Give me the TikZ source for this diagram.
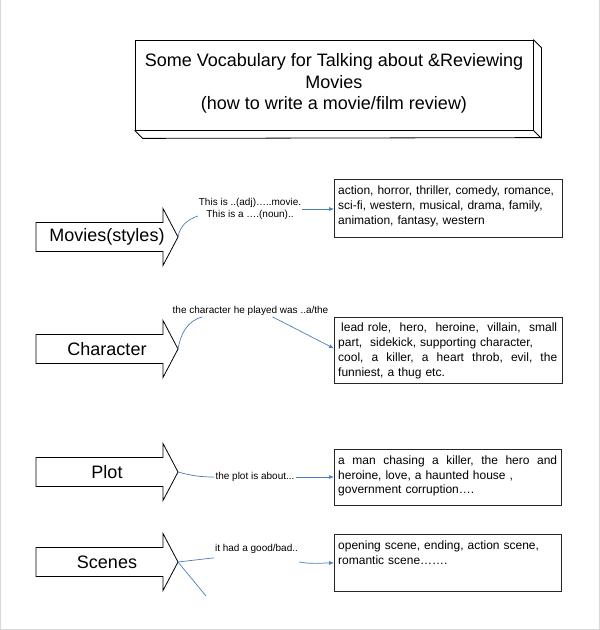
\documentclass[tikz,border=0pt]{standalone}
\usepackage{fontspec}
\setmainfont{Liberation Sans}
\usetikzlibrary{arrows.meta,calc}
\definecolor{conblue}{HTML}{4A7EBB}
\tikzset{
  big/.style={font=\fontsize{18}{21.5}\selectfont},
  small/.style={font=\fontsize{10}{12}\selectfont, inner sep=1pt, align=center},
  boxtext/.style={font=\fontsize{12}{14.8}\selectfont, text width=219pt, align=left,
    inner xsep=4pt, inner ysep=7pt, anchor=north west},
  wordbox/.style={draw=black!85, line width=0.9pt, inner sep=0pt, anchor=north west},
  con/.style={draw=conblue, line width=0.7pt},
  conarrow/.style={con, -{Latex[length=5pt,width=4pt]}},
  blockarrow/.pic={
    \draw[line width=0.8pt, fill=white] (0,0) -- (-15,28.5) -- (-15,14.5) -- (-142,14.5)
      -- (-142,-14.5) -- (-15,-14.5) -- (-15,-28.5) -- cycle;
    \coordinate (-tip) at (0,0);
  }
}
\newcommand{\jline}[1]{\makebox[219pt][l]{#1}}
\newcommand{\sep}{\hfill}
\begin{document}
\begin{tikzpicture}[x=1pt,y=1pt]
\useasboundingbox (0,0) rectangle (600,630);
% page frame
\draw[gray!30, line width=0.8pt] (0.5,630) -- (0.5,0.5) -- (599.5,0.5) -- (599.5,630);

% title box
\node[draw, line width=0.8pt, minimum width=398pt, minimum height=90pt, inner sep=0pt] (titlebox) at (334,545) {};
\draw[line width=0.8pt] (titlebox.north east) -- ++(8,-8) -- ++(0,-90) -- ($(titlebox.south west)+(8,-8)$) -- (titlebox.south west);
\draw[line width=0.8pt] (titlebox.south east) -- ++(8,-8);
\node[big, align=center] (title) at (334,546.5) {Some Vocabulary for Talking about \&Reviewing\\Movies\\(how to write a movie/film review)};

% block arrows
\pic (mv) at (178,393) {blockarrow};
\pic (ch) at (178,281) {blockarrow};
\pic (pl) at (178,158) {blockarrow};
\pic (sc) at (178,68) {blockarrow};
\node[big] (mvlabel) at ($(mv-tip)+(-71,0)$) {Movies(styles)};
\node[big] (chlabel) at ($(ch-tip)+(-71,0)$) {Character};
\node[big] (pllabel) at ($(pl-tip)+(-71,0)$) {Plot};
\node[big] (sclabel) at ($(sc-tip)+(-71,0)$) {Scenes};

% word boxes
\node[wordbox, minimum width=228pt, minimum height=58pt] (box1) at (334,451) {};
\node[boxtext] (box1text) at (box1.north west) {action, horror, thriller, comedy, romance,\\sci-fi, western, musical, drama, family,\\animation, fantasy, western};
\node[wordbox, minimum width=228pt, minimum height=66pt] (box2) at (334,313) {};
\node[boxtext, inner ysep=6pt] (box2text) at (box2.north west) {\jline{\hspace*{3pt}lead\ role,\sep hero,\sep heroine,\sep villain,\sep small}\\part,\ \ sidekick, supporting character,\\\jline{cool,\sep a\sep killer,\sep a\sep heart\sep throb,\sep evil,\sep the}\\funniest, a thug etc.};
\node[wordbox, minimum width=227pt, minimum height=56pt] (box3) at (334,181) {};
\node[boxtext, font=\fontsize{12}{14.2}\selectfont] (box3text) at (box3.north west) {\jline{a\sep man\sep chasing\sep a\sep killer,\sep the\sep hero\sep and}\\heroine, love, a haunted house ,\\government corruption….};
\node[wordbox, minimum width=227pt, minimum height=57pt] (box4) at (334,96) {};
\node[boxtext] (box4text) at (box4.north west) {opening scene, ending, action scene,\\romantic scene…….};

% connector labels
\node[small] (lbl1) at (250,421) {This is ..(adj)…..movie.\\This is a ….(noun)..};
\node[small] (lbl2) at (250.5,319) {the character he played was ..a/the};
\node[small] (lbl3) at (255,153) {the plot is about...};
\node[small] (lbl4) at (256.5,81) {it had a good/bad..};
\coordinate (scend) at (206,34);

% connectors
\draw[con] (mv-tip) to[out=80,in=200] ([yshift=-7pt]lbl1.west);
\draw[conarrow] (lbl1.east) -- (lbl1.east -| box1.west);

\draw[con] (ch-tip) to[out=80,in=195] ([xshift=31pt]lbl2.south west);
\draw[conarrow] ([xshift=101pt]lbl2.south west) -- ([yshift=2pt]box2.west);

\draw[con] (pl-tip) to[out=-15,in=180] (lbl3.west);
\draw[conarrow] (lbl3.east) -- (lbl3.east -| box3.west);

\draw[con] (sc-tip) -- ([yshift=-3pt]lbl4.south west);
\draw[conarrow] ([yshift=-13pt]lbl4.east) to[out=-10,in=180] (box4.west);
\draw[con] (sc-tip) -- (scend);
\end{tikzpicture}
\end{document}
